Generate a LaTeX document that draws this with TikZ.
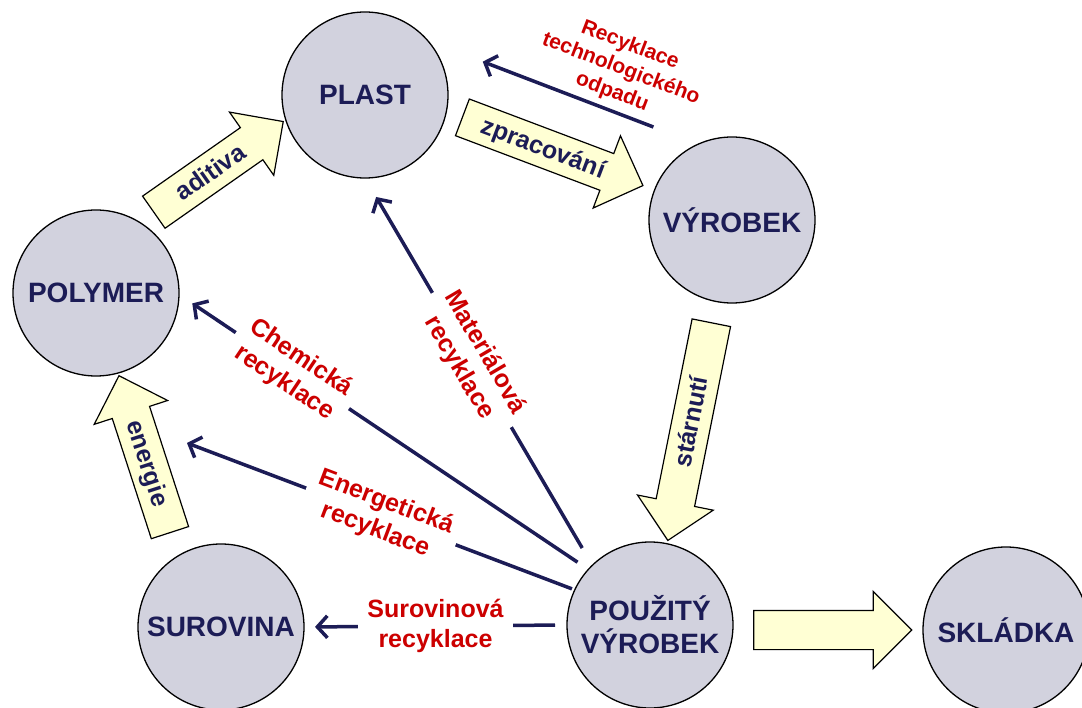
\documentclass[tikz,border=0pt]{standalone}
\usepackage{fontspec}
\setmainfont{Liberation Sans}
\usepackage{tikz}
\usetikzlibrary{shapes.arrows, arrows.meta, positioning}
\definecolor{ink}{RGB}{28, 28, 86}
\definecolor{recred}{RGB}{204, 0, 0}
\definecolor{discfill}{RGB}{210, 210, 222}
\definecolor{cream}{RGB}{255, 255, 212}

\begin{document}
\begin{tikzpicture}[
  x=1pt, y=-1pt,
  disc/.style={circle, draw, line width=1.3pt, fill=discfill, minimum size=166pt,
    inner sep=0pt, outer sep=0pt, align=center, text=ink,
    font=\fontsize{28}{33}\selectfont\bfseries},
  block/.style={single arrow, draw, line width=1.2pt, fill=cream, minimum width=76pt,
    single arrow head extend=19pt, inner xsep=3pt, inner ysep=3pt,
    text height=24pt, text depth=8pt, text=ink,
    font=\fontsize{25}{30}\selectfont\bfseries},
  rec/.style={draw=ink, line width=3.5pt, -{Straight Barb[length=10pt, width=22pt]}},
  reclbl/.style={text=recred, fill=white, align=center, inner xsep=9pt, inner ysep=1pt,
    font=\fontsize{25}{30}\selectfont\bfseries}
]
\useasboundingbox (0,0) rectangle (1082,708);
% circles
\node[disc] (plast) at (365,95) {PLAST};
\node[disc] (vyrobek) at (732,220) {VÝROBEK};
\node[disc] (polymer) at (96,293) {POLYMER};
\node[disc] (surovina) at (221,627) {SUROVINA};
\node[disc] (pouzity) at (650,625) {POUŽITÝ\\VÝROBEK};
\node[disc] (skladka) at (1006,630) {SKLÁDKA};
% block arrows
\node[block, minimum height=158pt, rotate=35] (aditiva) at (210.5,172.5) {aditiva};
\node[block, minimum height=193pt, rotate=-20.7] (zprac) at (543.5,148) {zpracování};
\node[block, minimum height=222pt, rotate=78.7, shape border rotate=180] (starnuti) at (691.5,422) {stárnutí};
\node[block, minimum height=165pt, rotate=-72, shape border rotate=180] (energie) at (147.5,463.5) {energie};
\node[block, minimum height=158pt] (odvoz) at (823,630) {};
% recycling routes
\coordinate (energTip) at (187,443);
\draw[rec, shorten <=48pt, shorten >=59pt] (vyrobek.114) -- (plast.41);
\node[reclbl, fill=none, rotate=-21, font=\fontsize{21}{25}\selectfont\bfseries] (odpad) at (621,69)
  {Recyklace\\technologického\\odpadu};
\draw[rec, shorten <=20pt, shorten >=22pt] (pouzity.134) -- (plast.south)
  node[reclbl, pos=0.53, sloped] (material) {Materiálová\\recyklace};
\draw[rec, shorten <=13pt, shorten >=16pt] (pouzity.138) -- (polymer.-1)
  node[reclbl, pos=0.723, sloped] (chem) {Chemická\\recyklace};
\draw[rec, shorten <=3pt] (pouzity.155) -- (energTip)
  node[reclbl, pos=0.5, sloped] (energ) {Energetická\\recyklace};
\draw[rec, shorten <=12pt, shorten >=11pt] (pouzity.west) -- (surovina.east)
  node[reclbl, pos=0.5] (surov) {Surovinová\\recyklace};
\end{tikzpicture}
\end{document}
